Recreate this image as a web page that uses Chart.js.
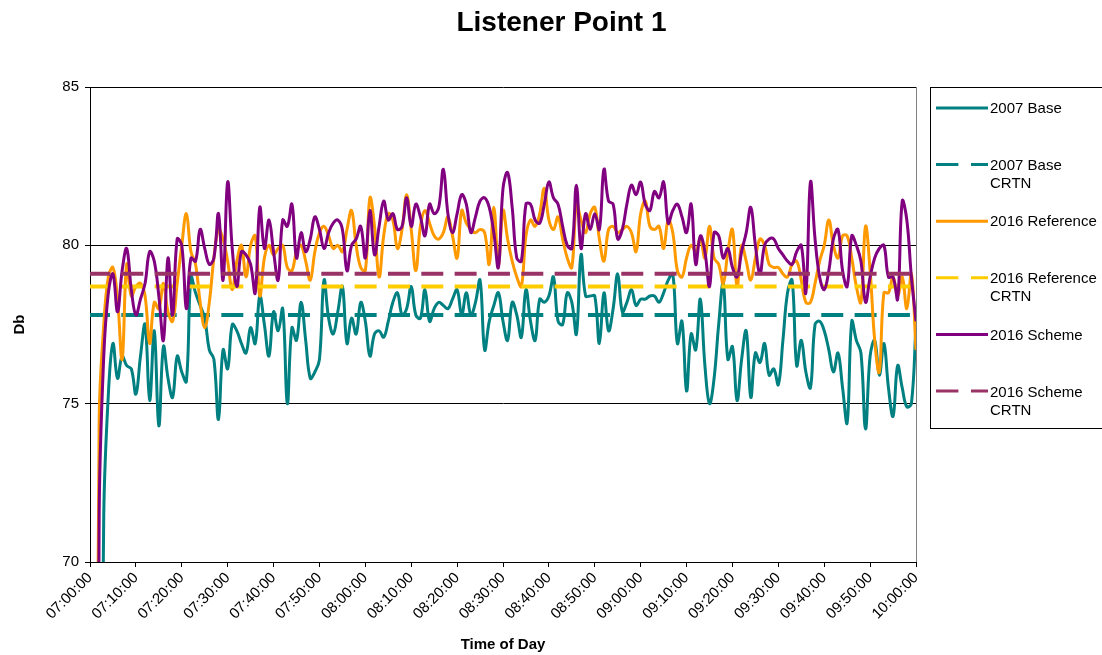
<!DOCTYPE html>
<html><head><meta charset="utf-8">
<script src="https://cdn.jsdelivr.net/npm/chart.js@4.4.1/dist/chart.umd.min.js"></script>
<style>html,body{margin:0;padding:0;background:#fff;}canvas{display:block;}</style>
</head><body>
<canvas id="c" width="1102" height="655"></canvas>
<script>
const tickLabels = ['07:00:00','07:10:00','07:20:00','07:30:00','07:40:00','07:50:00','08:00:00','08:10:00','08:20:00','08:30:00','08:40:00','08:50:00','09:00:00','09:10:00','09:20:00','09:30:00','09:40:00','09:50:00','10:00:00'];

const seriesNames = ['2007 Base','2007 Base CRTN','2016 Reference','2016 Reference CRTN','2016 Scheme','2016 Scheme CRTN'];

const base2007 = [
40,45,55,71.5,75.3,76.9,75.8,76.5,76.2,76.1,
75.3,76.5,77.5,75.1,77.3,74.3,76.8,75.8,75.2,76.5,
76.0,75.7,79.0,78.5,78.1,77.7,76.7,76.4,74.5,76.7,
76.1,77.5,77.3,76.9,76.6,77.4,76.9,78.4,77.5,76.5,
77.9,77.3,78.0,75.0,77.4,77.0,78.2,77.0,75.8,76.0,
76.4,78.9,77.7,77.2,77.9,78.7,76.9,77.7,77.2,78.2,
77.6,76.5,77.2,77.3,77.1,77.6,78.2,78.5,77.8,78.0,
78.7,77.8,77.7,78.6,77.6,78.0,78.2,78.1,78.0,78.3,
78.6,77.8,78.5,77.8,78.2,78.9,76.7,77.6,78.1,78.5,
77.6,77.0,78.2,77.8,77.1,78.6,77.6,77.0,78.3,78.2,
78.4,79.0,77.6,77.5,78.5,78.2,77.2,79.7,78.4,78.4,
78.4,76.9,78.5,77.3,78.0,79.1,77.9,78.2,78.6,78.1,
78.3,78.3,78.4,78.4,78.2,78.5,78.9,79.1,76.9,77.6,
75.4,77.2,76.7,78.3,76.2,75.0,75.8,77.5,78.8,76.4,
76.8,75.1,76.4,77.3,75.2,76.6,76.3,76.9,75.9,76.1,
75.6,77.0,78.5,78.9,76.2,77.0,76.0,75.5,77.5,77.6,
77.3,76.7,76.0,76.6,75.5,74.4,77.6,77.0,76.6,74.2,
76.5,77.0,75.9,76.9,75.5,74.6,76.2,75.5,74.9,75.0,
77.5];

const ref2016 = [
30,50,74.5,77.5,79.0,79.3,78.3,76.4,79.4,78.4,
78.7,78.8,78.4,76.9,78.2,78.0,78.8,77.9,77.6,78.8,
80.0,81.0,79.8,79.4,78.2,77.4,78.2,79.6,80.5,80.2,
79.5,78.6,79.5,80.0,79.0,80.0,80.3,78.4,79.6,80.0,
79.7,79.9,80.0,79.3,79.2,79.8,80.0,79.5,78.9,79.8,
80.4,80.6,80.3,79.9,80.0,79.8,80.5,81.1,80.0,79.3,
79.2,81.5,80.6,79.0,80.3,81.0,80.8,79.9,80.5,81.6,
80.5,79.2,80.6,81.1,80.7,80.3,80.2,80.4,80.9,80.3,
79.6,81.1,80.7,80.5,80.4,80.5,80.4,79.4,81.2,79.4,
81.1,80.2,79.5,79.0,78.7,80.3,80.8,80.6,81.0,81.8,
80.8,80.5,80.9,80.2,79.6,79.3,81.3,80.8,80.4,81.0,
81.2,80.2,79.5,80.5,80.6,80.4,80.5,80.6,80.4,79.8,
81.0,81.4,80.6,80.5,80.6,79.9,80.8,80.4,79.2,79.0,
79.6,80.0,79.8,80.2,79.6,80.6,79.6,79.4,78.8,79.8,
80.5,78.7,80.0,79.5,78.9,79.6,80.2,80.0,79.4,79.3,
79.3,79.1,79.0,79.4,79.5,78.9,78.2,78.2,78.8,79.5,
80.0,80.8,80.0,79.6,80.3,80.3,79.6,78.7,78.2,80.6,
79.2,77.0,76.0,78.5,78.5,79.0,78.4,79.0,78.0,79.1,
76.7];

const scheme2016 = [
30,40,71.5,76.5,78.5,79.1,77.9,79.2,79.9,78.6,
77.8,78.3,78.8,79.8,79.5,78.4,77.0,79.6,77.8,80.2,
80.0,78.0,79.6,79.5,80.5,79.9,79.4,79.6,81.0,78.9,
82.0,79.9,78.7,79.8,79.7,79.4,78.5,81.2,79.9,80.8,
79.8,78.9,80.8,80.6,81.3,79.6,80.4,79.8,80.2,80.9,
80.5,79.9,80.4,80.7,80.8,80.5,79.2,80.0,80.2,80.6,
79.6,81.1,79.7,80.6,81.4,80.8,81.0,80.5,80.6,81.5,
80.6,81.3,80.9,80.3,81.3,81.0,81.2,82.4,81.0,80.4,
81.0,81.6,81.3,80.4,80.9,81.4,81.5,81.2,80.4,79.3,
81.8,82.3,81.2,79.6,79.5,81.3,81.3,80.8,80.7,81.3,
82.0,81.5,81.3,80.6,80.0,79.9,81.9,79.9,81.0,80.5,
81.0,80.5,82.4,81.4,81.3,80.2,80.5,81.3,81.9,81.6,
82.0,81.3,81.1,81.7,81.5,82.0,80.7,81.1,81.3,80.9,
80.4,81.3,79.4,80.3,79.8,78.7,80.4,80.3,79.6,79.9,
79.3,79.0,79.8,80.4,81.2,80.0,79.1,80.0,80.2,80.2,
79.9,79.7,79.5,79.4,79.8,80.0,78.5,82.0,80.2,79.0,
78.6,79.2,80.2,80.5,79.2,78.7,80.3,80.0,79.5,78.2,
79.0,79.6,79.9,80.0,79.0,79.0,78.3,81.4,80.8,79.0,
77.6];

const base2007CRTN = 77.8;
const ref2016CRTN = 78.7;
const scheme2016CRTN = 79.1;

const seriesColors = ['#008080','#008080','#FF9900','#FFCC00','#800080','#993366'];
const FONT = '"Liberation Sans", Arial, Helvetica, sans-serif';
Chart.defaults.font.family = FONT;
Chart.defaults.color = '#000';

const xEnd = (tickLabels.length - 1) * 10;
const toPoints = arr => arr.map((v, i) => ({x: i, y: v}));
const flat = v => [{x: 0, y: v}, {x: xEnd, y: v}];
const seriesData = [toPoints(base2007), flat(base2007CRTN), toPoints(ref2016), flat(ref2016CRTN), toPoints(scheme2016), flat(scheme2016CRTN)];

const DASH = [22, 11.33];
const datasets = seriesData.map((d, i) => {
  const dashed = i % 2 === 1;
  return {
    label: seriesNames[i],
    data: d,
    borderColor: seriesColors[i],
    backgroundColor: seriesColors[i],
    borderWidth: dashed ? 4 : 3,
    borderDash: dashed ? DASH : [],
    borderDashOffset: dashed ? 2 : 0,
    pointRadius: 0,
    tension: dashed ? 0 : 0.4,
    fill: false,
    order: 5 - i,
    clip: 0
  };
});

const decor = {
  id: 'decor',
  afterDraw(chart) {
    const ctx = chart.ctx, a = chart.chartArea;
    ctx.save();
    ctx.strokeStyle = '#808080'; ctx.lineWidth = 1; ctx.setLineDash([]);
    ctx.beginPath(); ctx.moveTo(Math.round(a.right) + 0.5, a.top); ctx.lineTo(Math.round(a.right) + 0.5, a.bottom); ctx.stroke();
    // title
    ctx.fillStyle = '#000';
    ctx.font = 'bold 28px ' + FONT;
    ctx.textAlign = 'center'; ctx.textBaseline = 'alphabetic';
    ctx.fillText('Listener Point 1', 561.5, 31);
    // legend
    ctx.strokeStyle = '#000'; ctx.lineWidth = 1;
    ctx.strokeRect(930.5, 87.5, 200, 341);
    ctx.font = '15px ' + FONT;
    ctx.textAlign = 'left'; ctx.textBaseline = 'middle';
    seriesNames.forEach((name, i) => {
      const y = 108 + i * 56.6;
      const dashed = i % 2 === 1;
      ctx.strokeStyle = seriesColors[i];
      ctx.lineWidth = 3;
      ctx.setLineDash(dashed ? [22.4, 12.6] : []);
      ctx.beginPath(); ctx.moveTo(936, y); ctx.lineTo(988, y); ctx.stroke();
      ctx.setLineDash([]);
      ctx.fillStyle = '#000';
      if (dashed) {
        const parts = name.split(' CRTN');
        ctx.fillText(parts[0], 990, y + 1.5);
        ctx.fillText('CRTN', 990, y + 19.5);
      } else {
        ctx.fillText(name, 990, y + 1);
      }
    });
    ctx.restore();
  }
};

new Chart(document.getElementById('c'), {
  type: 'line',
  data: { datasets },
  options: {
    responsive: false,
    animation: false,
    events: [],
    layout: { padding: { top: 87, right: 186, left: 0, bottom: 0 } },
    plugins: { legend: { display: false }, title: { display: false }, tooltip: { enabled: false } },
    scales: {
      x: {
        type: 'linear', min: 0, max: xEnd,
        afterFit: s => { s.height = 93; },
        ticks: {
          stepSize: 10, autoSkip: false, maxRotation: 45, minRotation: 45,
          color: '#000', font: { size: 15 }, padding: 2,
          callback: v => tickLabels[Math.round(v / 10)]
        },
        grid: { drawOnChartArea: false, drawTicks: true, tickLength: 5, color: '#000' },
        border: { color: '#000', width: 1 },
        title: { display: true, text: 'Time of Day', color: '#000', font: { size: 15, weight: 'bold' }, padding: { top: 0, bottom: 1 } }
      },
      y: {
        min: 70, max: 85,
        afterFit: s => { s.width = 90; },
        ticks: { stepSize: 5, color: '#000', font: { size: 15 }, padding: 6 },
        grid: { color: '#000', tickLength: 5, drawTicks: true },
        border: { color: '#000', width: 1 },
        title: { display: true, text: 'Db', color: '#000', font: { size: 15, weight: 'bold' }, padding: { top: 11, bottom: 0 } }
      }
    }
  },
  plugins: [decor]
});
</script>
</body></html>
